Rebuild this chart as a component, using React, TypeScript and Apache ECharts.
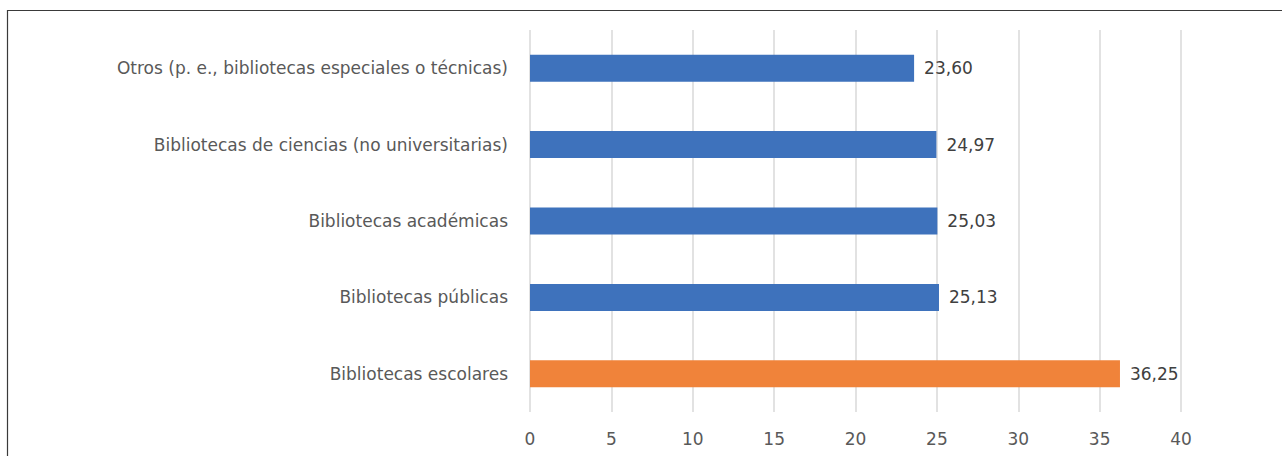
import React, { useEffect, useRef } from "react";
import * as echarts from "echarts";

// Categories listed top to bottom as in the chart
const categories: string[] = [
  "Otros (p. e., bibliotecas especiales o técnicas)",
  "Bibliotecas de ciencias (no universitarias)",
  "Bibliotecas académicas",
  "Bibliotecas públicas",
  "Bibliotecas escolares",
];
const values: number[] = [23.6, 24.97, 25.03, 25.13, 36.25];
const highlighted: string[] = ["Bibliotecas escolares"];
const xTicks = { min: 0, max: 40, interval: 5 };

const BLUE = "#3e72bc";
const ORANGE = "#f0833a";
const FONT = "DejaVu Sans";

export default function App() {
  const ref = useRef<HTMLDivElement>(null);
  useEffect(() => {
    if (!ref.current) return;
    const chart = echarts.init(ref.current, undefined, { renderer: "svg" });
    chart.setOption({
      animation: false,
      backgroundColor: "#ffffff",
      grid: { left: 530, right: 101, top: 30, bottom: 44, containLabel: false },
      xAxis: {
        type: "value",
        min: xTicks.min,
        max: xTicks.max,
        interval: xTicks.interval,
        axisLine: { show: false },
        axisTick: { show: false },
        axisLabel: { color: "#595959", fontSize: 17, fontFamily: FONT, margin: 18 },
        splitLine: { show: true, lineStyle: { color: "#d9d9d9", width: 1.5 } },
      },
      yAxis: {
        type: "category",
        inverse: true,
        data: categories,
        axisLine: { show: false },
        axisTick: { show: false },
        axisLabel: { color: "#595959", fontSize: 17, fontFamily: FONT, margin: 22 },
        splitLine: { show: false },
      },
      series: [
        {
          type: "bar",
          data: values.map((v, i) => ({
            value: v,
            itemStyle: { color: highlighted.includes(categories[i]) ? ORANGE : BLUE },
          })),
          barWidth: 27,
          label: {
            show: true,
            position: "right",
            distance: 10,
            color: "#404040",
            fontSize: 17,
            fontFamily: FONT,
            formatter: (p: any) => Number(p.value).toFixed(2).replace(".", ","),
          },
        },
      ],
      graphic: [
        {
          type: "rect",
          shape: { x: 7.5, y: 10.5, width: 1300, height: 500 },
          style: { fill: "none", stroke: "#3a3a3a", lineWidth: 1.2 },
          silent: true,
        },
      ],
    });
    return () => chart.dispose();
  }, []);
  return (
    <div
      ref={ref}
      style={{ position: "absolute", left: 0, top: 0, width: 1282, height: 456 }}
    />
  );
}
